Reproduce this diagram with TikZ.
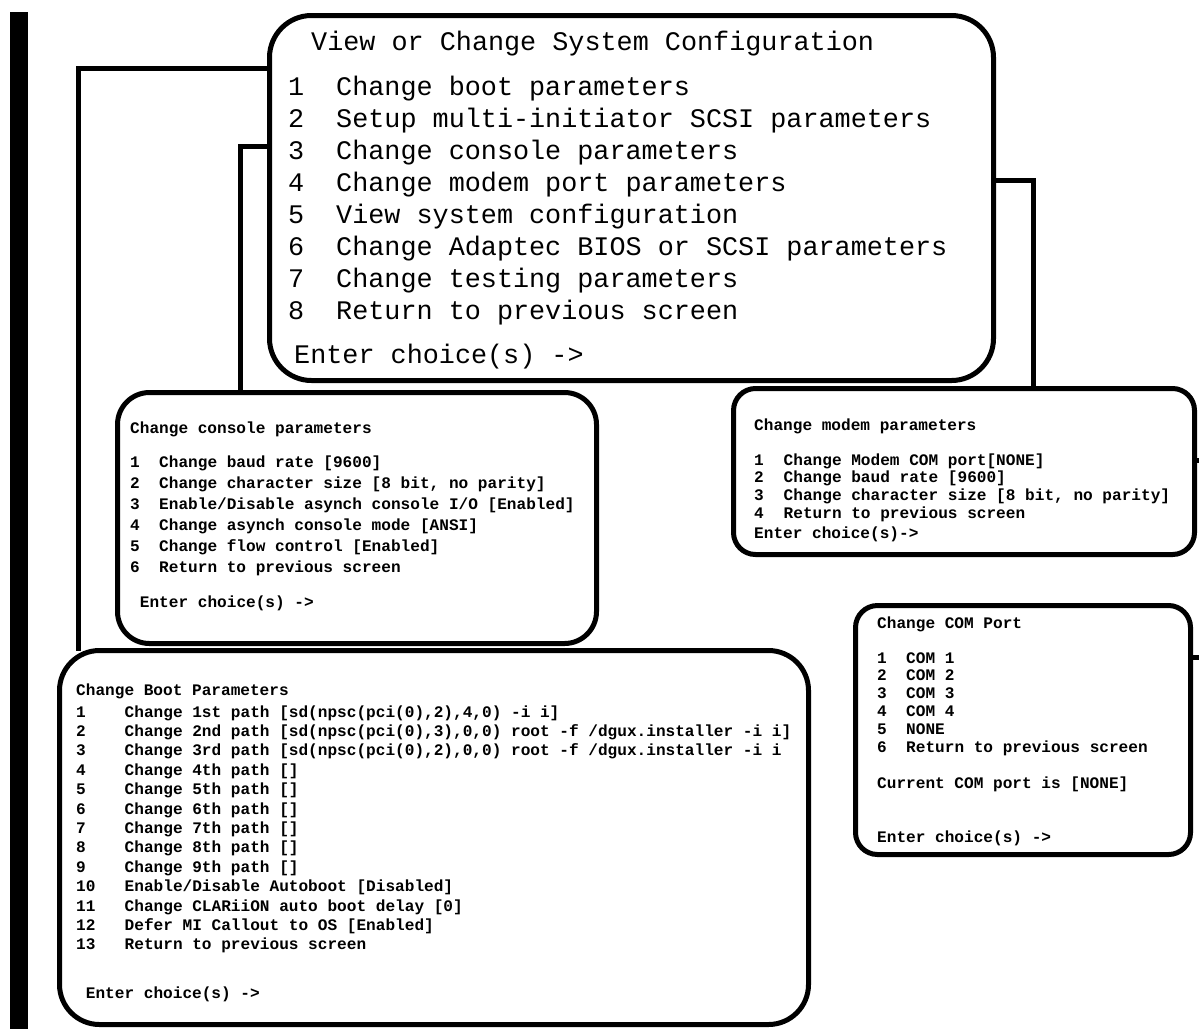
\documentclass[tikz,border=0pt]{standalone}
\usepackage{fontspec}
\newfontfamily\monofam{Liberation Mono}
\begin{document}
\begin{tikzpicture}[x=1pt,y=-1pt,
  box/.style={draw, line width=5pt, inner sep=0pt, anchor=north west},
  conn/.style={line width=5pt, line cap=rect},
  txt/.style={inner sep=0pt, anchor=base west},
  bigf/.style={font=\monofam\fontsize{26.8}{32}\selectfont},
  smallf/.style={font=\monofam\bfseries\fontsize{16.1}{19}\selectfont}]
\useasboundingbox (0,0) rectangle (1199,1029);
% left thick bar
\fill (10,12) rectangle (28,1029);

% boxes
\node[box, rounded corners=42pt, minimum width=724pt, minimum height=365pt] (main) at (267,13) {};
\node[box, rounded corners=32pt, minimum width=479pt, minimum height=251pt] (console) at (115,390) {};
\node[box, rounded corners=22pt, minimum width=461pt, minimum height=166pt] (modem) at (731,386) {};
\node[box, rounded corners=22pt, minimum width=335pt, minimum height=249pt] (com) at (853,603) {};
\node[box, rounded corners=40pt, minimum width=749pt, minimum height=374pt] (boot) at (57,648) {};

% helper coordinates
\coordinate (y68) at (0,68);
\coordinate (y146) at (0,146);
\coordinate (y180) at (0,180);
\coordinate (y460) at (0,460);
\coordinate (y657) at (0,657);
\coordinate (x78) at (78,0);
\coordinate (x240) at (240,0);
\coordinate (x1033) at (1033,0);
\coordinate (edge1) at (1199,460);
\coordinate (edge2) at (1199,657);

% connectors
\draw[conn] (main.west |- y68) -| (boot.north -| x78);
\draw[conn] (main.west |- y146) -| (console.north -| x240);
\draw[conn] (main.east |- y180) -| (modem.north -| x1033);
\draw[conn] (modem.east |- y460) -- (edge1);
\draw[conn] (com.east |- y657) -- (edge2);

% main box text
\node[txt, bigf] (mtitle) at (311,50) {View or Change System Configuration};
\foreach \t [count=\i] in {{Change boot parameters},{Setup multi-initiator SCSI parameters},{Change console parameters},{Change modem port parameters},{View system configuration},{Change Adaptec BIOS or SCSI parameters},{Change testing parameters},{Return to previous screen}}{
  \node[txt, bigf] (mn\i) at (288,{95+32.1*(\i-1)}) {\i};
  \node[txt, bigf] (mt\i) at (336,{95+32.1*(\i-1)}) {\t};
}
\node[txt, bigf] (menter) at (294,363) {Enter choice(s) ->};

% console box text
\node[txt, smallf] (ctitle) at (130,433) {Change console parameters};
\foreach \t [count=\i] in {{Change baud rate [9600]},{Change character size [8 bit, no parity]},{Enable/Disable asynch console I/O [Enabled]},{Change asynch console mode [ANSI]},{Change flow control [Enabled]},{Return to previous screen}}{
  \node[txt, smallf] (cn\i) at (130,{467+21*(\i-1)}) {\i};
  \node[txt, smallf] (ct\i) at (159,{467+21*(\i-1)}) {\t};
}
\node[txt, smallf] (center) at (139.7,607) {Enter choice(s) ->};

% modem box text
\node[txt, smallf] (otitle) at (754,430) {Change modem parameters};
\foreach \t [count=\i] in {{Change Modem COM port[NONE]},{Change baud rate [9600]},{Change character size [8 bit, no parity]},{Return to previous screen}}{
  \node[txt, smallf] (on\i) at (754,{465+17.7*(\i-1)}) {\i};
  \node[txt, smallf] (ot\i) at (783.5,{465+17.7*(\i-1)}) {\t};
}
\node[txt, smallf] (oenter) at (754,538) {Enter choice(s)->};

% COM box text
\node[txt, smallf] (ptitle) at (877,628) {Change COM Port};
\foreach \t [count=\i] in {{COM 1},{COM 2},{COM 3},{COM 4},{NONE},{Return to previous screen}}{
  \node[txt, smallf] (pn\i) at (877,{663+17.8*(\i-1)}) {\i};
  \node[txt, smallf] (pt\i) at (906,{663+17.8*(\i-1)}) {\t};
}
\node[txt, smallf] (pcur) at (877,788) {Current COM port is [NONE]};
\node[txt, smallf] (penter) at (877,842) {Enter choice(s) ->};

% boot box text
\node[txt, smallf] (btitle) at (76,695) {Change Boot Parameters};
\foreach \t [count=\i] in {{Change 1st path [sd(npsc(pci(0),2),4,0) -i i]},{Change 2nd path [sd(npsc(pci(0),3),0,0) root -f /dgux.installer -i i]},{Change 3rd path [sd(npsc(pci(0),2),0,0) root -f /dgux.installer -i i},{Change 4th path []},{Change 5th path []},{Change 6th path []},{Change 7th path []},{Change 8th path []},{Change 9th path []},{Enable/Disable Autoboot [Disabled]},{Change CLARiiON auto boot delay [0]},{Defer MI Callout to OS [Enabled]},{Return to previous screen}}{
  \node[txt, smallf] (bn\i) at (76,{717+19.4*(\i-1)}) {\i};
  \node[txt, smallf] (bt\i) at (124.5,{717+19.4*(\i-1)}) {\t};
}
\node[txt, smallf] (benter) at (85.7,998) {Enter choice(s) ->};
\end{tikzpicture}
\end{document}
